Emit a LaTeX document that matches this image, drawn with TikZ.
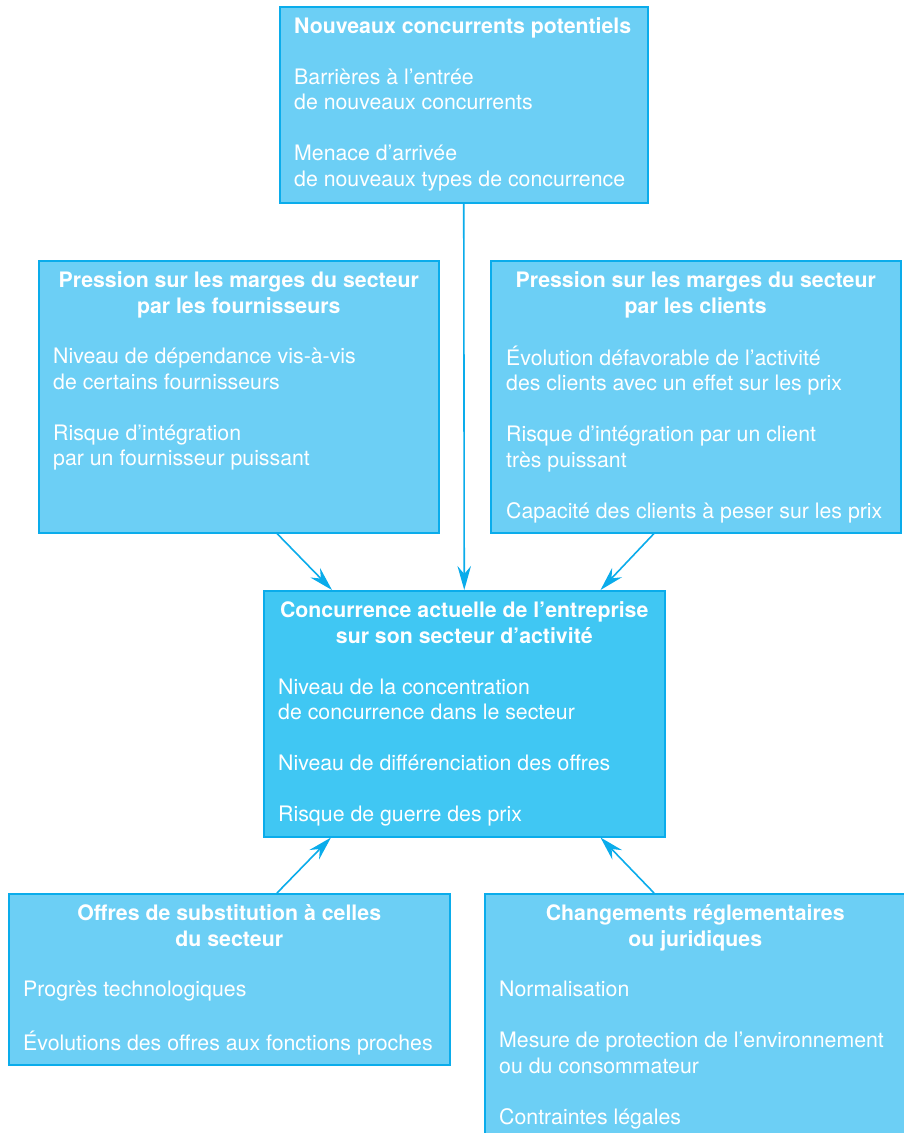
\documentclass[tikz,border=0pt]{standalone}
\usepackage{fontspec}
\setmainfont{TeX Gyre Heros}
\usetikzlibrary{arrows.meta}
\definecolor{boxfill}{RGB}{108,207,245}
\definecolor{centrefill}{RGB}{64,199,243}
\definecolor{linecol}{RGB}{10,172,235}
\begin{document}
\begin{tikzpicture}[x=1pt,y=-1pt,
  box/.style={draw=linecol, line width=1.5pt, fill=boxfill, anchor=north west, inner sep=0pt},
  txt/.style={text=white, inner sep=0pt, font=\fontsize{21.3}{25.5}\selectfont},
  ttl/.style={txt, font=\fontsize{21.3}{25.8}\selectfont\bfseries, align=center, anchor=north},
  body/.style={txt, align=left, anchor=north west},
  arr/.style={draw=linecol, line width=1.6pt, -{Stealth[length=24pt,width=13.5pt,inset=8pt]}}]
\clip (0,0) rectangle (904,1133);
\fill[white] (0,0) rectangle (904,1133);
% boxes
\node[box, minimum width=368pt, minimum height=196pt] (nouv) at (279,6) {};
\node[box, minimum width=400pt, minimum height=272pt] (fourn) at (38,260) {};
\node[box, minimum width=410pt, minimum height=272pt] (client) at (490,260) {};
\node[box, fill=centrefill, minimum width=401pt, minimum height=246pt] (centre) at (263,590) {};
\node[box, minimum width=441pt, minimum height=171pt] (subst) at (8,893) {};
\node[box, minimum width=421pt, minimum height=260pt] (regl) at (484,893) {};
% titles
\node[ttl, anchor=north west, align=left] (nouvH) at ([xshift=15pt,yshift=-9pt]nouv.north west)
 {\strut Nouveaux concurrents potentiels};
\node[ttl] (fournH) at ([yshift=-9pt]fourn.north)
 {\strut Pression sur les marges du secteur\\par les fournisseurs};
\node[ttl] (clientH) at ([yshift=-9pt]client.north)
 {\strut Pression sur les marges du secteur\\par les clients};
\node[ttl] (centreH) at ([yshift=-9.5pt]centre.north)
 {\strut Concurrence actuelle de l’entreprise\\sur son secteur d’activité};
\node[ttl] (substH) at ([yshift=-9pt]subst.north)
 {\strut Offres de substitution à celles\\du secteur};
\node[ttl] (reglH) at ([yshift=-9pt]regl.north)
 {\strut Changements réglementaires\\ou juridiques};
% bodies
\node[body] (nouvB) at ([xshift=15pt,yshift=-60pt]nouv.north west)
 {\strut Barrières à l’entrée\\de nouveaux concurrents\\[25.5pt]
  Menace d’arrivée\\de nouveaux types de concurrence};
\node[body] (fournB) at ([xshift=15pt,yshift=-85.5pt]fourn.north west)
 {\strut Niveau de dépendance vis-à-vis\\de certains fournisseurs\\[25.5pt]
  Risque d’intégration\\par un fournisseur puissant};
\node[body] (clientB) at ([xshift=16pt,yshift=-85.5pt]client.north west)
 {\strut Évolution défavorable de l’activité\\des clients avec un effet sur les prix\\[25.5pt]
  Risque d’intégration par un client\\très puissant\\[25.5pt]
  Capacité des clients à peser sur les prix};
\node[body] (centreB) at ([xshift=15pt,yshift=-86pt]centre.north west)
 {\strut Niveau de la concentration\\de concurrence dans le secteur\\[25.5pt]
  Niveau de différenciation des offres\\[25.5pt]
  Risque de guerre des prix};
\node[body] (substB) at ([xshift=15pt,yshift=-85.5pt]subst.north west)
 {\strut Progrès technologiques\\[25.5pt]
  Évolutions des offres aux fonctions proches};
\node[body] (reglB) at ([xshift=15pt,yshift=-85.5pt]regl.north west)
 {\strut Normalisation\\[25.5pt]
  Mesure de protection de l’environnement\\ou du consommateur\\[25.5pt]
  Contraintes légales};
% connectors
\draw[arr] (nouv.south) -- (centre.north);
\draw[arr] ([xshift=239pt]fourn.south west) -- ([xshift=69pt]centre.north west);
\draw[arr] ([xshift=164pt]client.south west) -- ([xshift=-65pt]centre.north east);
\draw[arr] ([xshift=269pt]subst.north west) -- ([xshift=68pt]centre.south west);
\draw[arr] ([xshift=170pt]regl.north west) -- ([xshift=-65pt]centre.south east);
\end{tikzpicture}
\end{document}
